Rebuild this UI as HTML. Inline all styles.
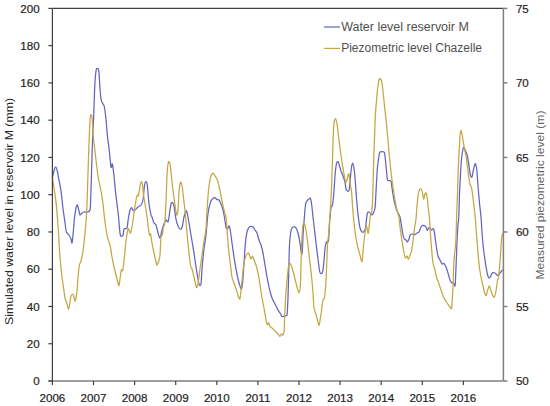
<!DOCTYPE html>
<html><head><meta charset="utf-8"><title>Chart</title>
<style>
html,body{margin:0;padding:0;background:#fff}
svg{display:block}
text{font-family:"Liberation Sans",sans-serif}
.tk{font-size:11.6px;fill:#1f1f1f;stroke:#1f1f1f;stroke-width:.2}
.ax{stroke:#404040;stroke-width:1.2}
.axr{stroke:#808080;stroke-width:1.5}
.lg{font-size:12.3px;fill:#505050}
</style></head><body>
<svg width="550" height="406" viewBox="0 0 550 406">
<rect width="550" height="406" fill="#fff"/>
<path d="M52.4,178.0C52.7,176.9 53.7,171.6 54.2,170.0C54.7,168.4 55.4,166.9 55.8,167.0C56.2,167.1 56.8,169.1 57.2,170.5C57.6,171.9 58.1,175.2 58.4,177.0C58.7,178.8 59.2,180.8 59.6,183.0C60.0,185.2 60.7,189.0 61.2,192.4C61.7,195.8 62.4,203.5 62.8,207.0C63.2,210.5 63.8,214.4 64.2,217.0C64.6,219.6 65.0,222.9 65.3,225.0C65.6,227.1 65.9,230.6 66.4,232.0C66.9,233.4 68.3,234.0 69.0,235.0C69.7,236.0 70.6,237.9 71.0,239.0C71.4,240.1 71.7,243.6 72.0,243.0C72.3,242.4 72.7,237.9 73.0,235.0C73.3,232.1 73.8,225.6 74.0,223.0C74.2,220.4 74.3,219.1 74.6,217.0C74.9,214.9 75.6,209.7 76.0,208.0C76.4,206.3 77.0,204.6 77.4,205.0C77.8,205.4 78.6,209.6 79.0,211.0C79.4,212.4 79.6,214.7 80.0,215.0C80.4,215.3 81.4,213.4 82.0,213.0C82.6,212.6 83.3,212.1 84.0,212.0C84.7,211.9 86.1,212.3 87.0,212.0C87.9,211.7 89.5,212.3 90.0,210.0C90.5,207.7 90.5,203.7 90.8,196.0C91.1,188.3 91.7,164.6 92.0,156.0C92.3,147.4 92.5,141.9 92.7,136.0C92.9,130.1 93.4,122.3 93.7,115.0C94.0,107.7 94.5,90.9 94.8,85.0C95.1,79.1 95.5,75.8 95.7,73.5C95.9,71.2 96.2,69.9 96.4,69.2C96.6,68.5 97.1,68.3 97.4,68.3C97.7,68.3 98.2,68.5 98.4,69.2C98.6,69.9 98.9,70.7 99.1,73.5C99.3,76.3 99.7,85.2 100.0,89.0C100.3,92.8 100.8,97.9 101.2,100.0C101.6,102.1 102.5,103.0 103.0,104.0C103.5,105.0 104.0,104.9 104.4,107.0C104.8,109.1 105.6,114.9 106.0,119.0C106.4,123.1 107.0,131.9 107.4,136.0C107.8,140.1 108.5,143.6 109.0,148.0C109.5,152.4 110.5,164.7 111.0,167.0C111.5,169.3 112.0,162.7 112.4,164.0C112.8,165.3 113.5,171.4 114.0,176.0C114.5,180.6 115.4,190.9 116.0,196.0C116.6,201.1 117.6,209.0 118.0,212.0C118.4,215.0 118.4,215.1 118.6,217.0C118.8,218.9 118.9,222.4 119.2,225.0C119.5,227.6 119.9,233.9 120.4,235.4C120.9,236.9 122.5,236.3 123.0,235.4C123.5,234.5 123.4,230.5 124.0,229.4C124.6,228.3 126.4,229.2 127.0,228.0C127.6,226.8 127.8,222.6 128.0,221.0C128.2,219.4 128.3,218.6 128.6,217.0C128.9,215.4 129.6,211.3 130.0,210.0C130.4,208.7 131.2,207.5 131.6,207.6C132.0,207.7 132.5,210.1 133.0,210.4C133.5,210.7 134.3,210.5 135.0,210.0C135.7,209.5 137.1,207.7 138.0,207.0C138.9,206.3 140.3,206.0 141.0,205.0C141.7,204.0 142.5,202.7 143.0,200.0C143.5,197.3 144.0,188.6 144.4,186.0C144.8,183.4 145.6,181.6 146.0,181.6C146.4,181.6 147.0,182.8 147.4,186.0C147.8,189.2 148.5,199.9 149.0,204.0C149.5,208.1 150.6,213.1 151.0,215.0C151.4,216.9 151.6,215.9 152.0,217.0C152.4,218.1 153.4,221.9 154.0,223.0C154.6,224.1 155.4,223.6 156.0,225.0C156.6,226.4 157.4,231.1 158.0,233.0C158.6,234.9 159.4,238.4 160.0,238.0C160.6,237.6 161.4,232.0 162.0,230.0C162.6,228.0 163.4,225.4 164.0,224.0C164.6,222.6 165.4,220.3 166.0,220.0C166.6,219.7 167.6,222.4 168.0,222.0C168.4,221.6 168.7,218.7 169.0,217.0C169.3,215.3 169.7,211.9 170.0,210.0C170.3,208.1 170.7,205.1 171.0,204.0C171.3,202.9 172.0,202.3 172.4,202.6C172.8,202.9 173.5,203.9 174.0,206.0C174.5,208.1 175.2,214.6 175.6,217.0C176.0,219.4 176.5,221.4 177.0,223.0C177.5,224.6 178.4,227.1 179.0,228.0C179.6,228.9 180.5,229.3 181.0,229.0C181.5,228.7 182.0,227.4 182.4,226.0C182.8,224.6 183.4,220.3 183.6,219.0C183.8,217.7 183.7,218.0 184.0,217.0C184.3,216.0 185.2,212.9 185.6,212.0C186.0,211.1 186.3,210.3 186.6,211.0C186.9,211.7 187.5,214.4 188.0,217.0C188.5,219.6 189.4,225.6 190.0,229.0C190.6,232.4 191.4,237.6 192.0,241.0C192.6,244.4 193.4,249.3 194.0,253.0C194.6,256.7 195.4,263.3 196.0,267.0C196.6,270.7 197.5,276.4 198.0,279.0C198.5,281.6 199.0,284.3 199.4,285.0C199.8,285.7 200.6,286.3 201.0,284.0C201.4,281.7 201.6,274.0 202.0,269.0C202.4,264.0 203.4,253.9 204.0,249.0C204.6,244.1 205.5,239.6 206.0,235.0C206.5,230.4 207.2,220.9 207.6,217.0C208.0,213.1 208.5,210.3 209.0,208.0C209.5,205.7 210.4,202.4 211.0,201.0C211.6,199.6 212.4,198.9 213.0,198.4C213.6,197.9 214.4,197.4 215.0,197.6C215.6,197.8 216.4,199.3 217.0,199.6C217.6,199.9 218.4,199.4 219.0,200.0C219.6,200.6 220.4,202.6 221.0,204.0C221.6,205.4 222.5,208.1 223.0,210.0C223.5,211.9 224.0,214.6 224.4,217.0C224.8,219.4 225.6,225.3 226.0,227.0C226.4,228.7 227.0,229.1 227.4,229.0C227.8,228.9 228.6,225.7 229.0,226.0C229.4,226.3 230.0,228.6 230.4,231.0C230.8,233.4 231.5,239.3 232.0,243.0C232.5,246.7 233.4,253.3 234.0,257.0C234.6,260.7 235.4,265.9 236.0,269.0C236.6,272.1 237.4,276.6 238.0,279.0C238.6,281.4 239.5,284.6 240.0,286.0C240.5,287.4 241.0,289.4 241.4,289.0C241.8,288.6 242.2,286.7 242.6,283.0C243.0,279.3 243.6,268.7 244.0,263.0C244.4,257.3 245.0,247.4 245.4,243.0C245.8,238.6 246.5,234.2 247.0,232.0C247.5,229.8 248.4,228.2 249.0,227.4C249.6,226.6 250.4,226.5 251.0,226.4C251.6,226.3 252.4,226.5 253.0,227.0C253.6,227.5 254.4,229.1 255.0,230.0C255.6,230.9 256.4,231.6 257.0,233.0C257.6,234.4 258.4,238.3 259.0,240.0C259.6,241.7 260.4,243.1 261.0,245.0C261.6,246.9 262.4,250.1 263.0,253.0C263.6,255.9 264.4,261.6 265.0,265.0C265.6,268.4 266.4,273.9 267.0,277.0C267.6,280.1 268.6,285.0 269.0,287.0C269.4,289.0 269.6,289.4 270.0,291.0C270.4,292.6 271.4,296.4 272.0,298.0C272.6,299.6 273.4,300.9 274.0,302.0C274.6,303.1 275.4,304.9 276.0,306.0C276.6,307.1 277.4,309.0 278.0,310.0C278.6,311.0 279.4,312.1 280.0,313.0C280.6,313.9 281.3,316.0 282.0,316.4C282.7,316.8 284.3,316.2 285.0,316.0C285.7,315.8 286.6,316.4 287.0,315.0C287.4,313.6 287.5,308.4 287.6,306.0C287.7,303.6 287.9,302.1 288.0,298.0C288.1,293.9 288.4,284.3 288.6,277.0C288.8,269.7 289.1,253.3 289.4,247.0C289.7,240.7 290.2,235.7 290.6,233.0C291.0,230.3 291.5,228.9 292.0,228.0C292.5,227.1 293.4,226.6 294.0,226.6C294.6,226.6 295.4,227.1 296.0,228.0C296.6,228.9 297.4,230.9 298.0,233.0C298.6,235.1 299.6,240.4 300.0,243.0C300.4,245.6 300.7,249.4 301.0,251.0C301.3,252.6 301.8,254.9 302.0,254.0C302.2,253.1 302.4,248.6 302.6,245.0C302.8,241.4 303.1,233.0 303.4,229.0C303.7,225.0 304.1,220.6 304.4,217.0C304.7,213.4 305.2,206.3 305.6,204.0C306.0,201.7 306.5,201.7 307.0,201.0C307.5,200.3 308.5,199.4 309.0,199.0C309.5,198.6 310.0,197.7 310.4,198.4C310.8,199.1 311.2,201.3 311.6,204.0C312.0,206.7 312.6,213.4 313.0,217.0C313.4,220.6 314.0,225.3 314.4,229.0C314.8,232.7 315.5,238.7 316.0,243.0C316.5,247.3 317.5,255.1 318.0,259.0C318.5,262.9 319.1,267.9 319.4,270.0C319.7,272.1 320.0,273.0 320.4,273.4C320.8,273.8 321.9,273.8 322.4,272.6C322.9,271.4 323.2,268.4 323.6,265.0C324.0,261.6 324.6,252.3 325.0,249.0C325.4,245.7 325.9,243.1 326.4,242.0C326.9,240.9 328.0,242.9 328.4,241.0C328.8,239.1 329.0,232.4 329.2,229.0C329.4,225.6 329.7,220.0 330.0,217.0C330.3,214.0 330.7,209.7 331.0,208.0C331.3,206.3 332.0,206.7 332.4,205.0C332.8,203.3 333.2,200.1 333.6,196.0C334.0,191.9 334.6,180.6 335.0,176.0C335.4,171.4 336.0,166.1 336.4,164.0C336.8,161.9 337.5,161.3 338.0,161.6C338.5,161.9 339.2,164.7 339.6,166.0C340.0,167.3 340.5,169.6 341.0,171.0C341.5,172.4 342.4,174.4 343.0,176.0C343.6,177.6 344.6,180.1 345.0,182.0C345.4,183.9 345.7,187.7 346.0,189.0C346.3,190.3 347.0,190.8 347.4,191.0C347.8,191.2 348.6,191.7 349.0,190.4C349.4,189.1 349.7,185.2 350.0,182.0C350.3,178.8 351.0,170.7 351.4,168.0C351.8,165.3 352.2,163.0 352.6,163.0C353.0,163.0 353.6,165.6 354.0,168.0C354.4,170.4 354.8,175.7 355.2,180.0C355.6,184.3 356.1,193.4 356.5,198.0C356.9,202.6 357.4,209.0 357.7,212.0C358.0,215.0 358.3,216.9 358.6,219.0C358.9,221.1 359.4,225.2 359.8,227.0C360.2,228.8 361.1,230.9 361.6,231.6C362.1,232.3 363.1,232.4 363.6,232.0C364.1,231.6 365.0,230.2 365.4,228.5C365.8,226.8 366.2,221.8 366.4,220.0C366.6,218.2 366.8,217.0 366.9,216.0C367.0,215.0 367.1,213.6 367.4,213.0C367.7,212.4 368.5,211.9 369.0,212.0C369.5,212.1 370.2,213.2 370.6,213.6C371.0,214.0 371.6,215.1 372.0,215.0C372.4,214.9 373.0,214.0 373.4,213.0C373.8,212.0 374.6,211.0 375.0,208.0C375.4,205.0 375.7,197.7 376.0,192.0C376.3,186.3 377.0,173.1 377.4,168.0C377.8,162.9 378.6,158.3 379.0,156.0C379.4,153.7 379.3,152.6 380.0,152.0C380.7,151.4 383.3,151.4 384.0,152.0C384.7,152.6 384.7,154.0 385.0,156.0C385.3,158.0 385.7,163.1 386.0,166.0C386.3,168.9 386.8,173.9 387.0,176.0C387.2,178.1 387.0,179.7 387.6,180.4C388.2,181.1 390.4,179.9 391.0,181.0C391.6,182.1 391.6,185.3 392.0,188.0C392.4,190.7 393.4,197.1 394.0,200.0C394.6,202.9 395.4,206.1 396.0,208.0C396.6,209.9 397.4,211.7 398.0,213.0C398.6,214.3 399.5,215.3 400.0,217.0C400.5,218.7 401.0,222.4 401.4,225.0C401.8,227.6 402.6,233.0 403.0,235.0C403.4,237.0 404.0,238.3 404.4,239.0C404.8,239.7 405.6,239.6 406.0,240.0C406.4,240.4 407.0,242.1 407.4,242.0C407.8,241.9 408.6,239.9 409.0,239.0C409.4,238.1 409.6,236.1 410.0,235.4C410.4,234.7 411.3,234.1 412.0,234.0C412.7,233.9 414.3,234.7 415.0,234.6C415.7,234.5 416.4,233.4 417.0,233.0C417.6,232.6 418.4,232.9 419.0,232.0C419.6,231.1 420.4,227.9 421.0,227.0C421.6,226.1 422.4,225.5 423.0,225.4C423.6,225.3 424.5,225.6 425.0,226.0C425.5,226.4 426.1,227.3 426.4,228.0C426.7,228.7 427.1,230.6 427.4,230.6C427.7,230.6 428.2,228.4 428.6,228.0C429.0,227.6 429.6,227.7 430.0,228.0C430.4,228.3 431.0,229.9 431.4,230.0C431.8,230.1 432.6,228.6 433.0,228.6C433.4,228.6 433.7,228.8 434.0,230.0C434.3,231.2 434.7,234.6 435.0,237.0C435.3,239.4 436.0,244.3 436.4,247.0C436.8,249.7 437.5,254.1 438.0,256.0C438.5,257.9 439.4,258.9 440.0,260.0C440.6,261.1 441.4,263.5 442.0,264.0C442.6,264.5 443.4,263.0 444.0,263.4C444.6,263.8 445.4,265.6 446.0,267.0C446.6,268.4 447.4,271.1 448.0,273.0C448.6,274.9 449.4,278.6 450.0,280.0C450.6,281.4 451.5,282.6 452.0,283.0C452.5,283.4 453.2,282.6 453.6,283.0C454.0,283.4 454.7,286.9 455.0,286.0C455.3,285.1 455.4,281.1 455.6,277.0C455.8,272.9 456.2,262.7 456.4,257.0C456.6,251.3 457.0,241.6 457.2,237.0C457.4,232.4 457.8,227.9 458.0,225.0C458.2,222.1 458.6,221.1 458.8,217.0C459.0,212.9 459.2,201.9 459.4,196.0C459.6,190.1 460.1,181.4 460.4,176.0C460.7,170.6 461.2,161.9 461.6,158.0C462.0,154.1 462.7,150.5 463.0,149.0C463.3,147.5 463.6,147.1 464.0,147.4C464.4,147.7 465.1,149.8 465.6,151.0C466.1,152.2 466.9,153.9 467.4,156.0C467.9,158.1 468.6,163.3 469.0,166.0C469.4,168.7 470.0,173.4 470.4,175.0C470.8,176.6 471.6,177.7 472.0,177.0C472.4,176.3 473.0,171.7 473.4,170.0C473.8,168.3 474.3,165.9 474.6,165.0C474.9,164.1 475.3,163.3 475.6,164.0C475.9,164.7 476.5,166.9 476.8,170.0C477.1,173.1 477.6,181.4 478.0,186.0C478.4,190.6 479.0,197.6 479.4,202.0C479.8,206.4 480.6,212.3 481.0,217.0C481.4,221.7 481.8,230.3 482.2,235.0C482.6,239.7 483.2,246.4 483.6,250.0C484.0,253.6 484.7,257.6 485.0,260.0C485.3,262.4 485.6,264.9 486.0,267.0C486.4,269.1 487.2,273.4 487.6,275.0C488.0,276.6 488.6,277.7 489.0,278.0C489.4,278.3 490.0,277.6 490.4,277.0C490.8,276.4 491.2,274.6 491.6,274.0C492.0,273.4 492.5,272.7 493.0,272.6C493.5,272.5 494.4,272.7 495.0,273.0C495.6,273.3 496.5,274.7 497.0,275.0C497.5,275.3 498.0,275.7 498.4,275.4C498.8,275.1 499.5,273.6 500.0,273.0C500.5,272.4 501.2,271.4 501.6,271.0C502.0,270.6 502.8,270.1 503.0,270.0" fill="none" stroke="#6164c0" stroke-width="1.25" stroke-linejoin="round"/>
<path d="M52.4,178.0C52.6,179.0 53.2,182.4 53.6,185.0C54.0,187.6 54.8,193.0 55.2,196.0C55.6,199.0 56.1,202.6 56.4,206.0C56.7,209.4 57.3,215.4 57.6,220.0C57.9,224.6 58.5,232.7 58.8,238.0C59.1,243.3 59.5,251.4 60.0,257.0C60.5,262.6 61.4,272.1 62.0,277.0C62.6,281.9 63.6,288.0 64.0,291.0C64.4,294.0 64.6,296.1 65.0,298.0C65.4,299.9 66.5,302.4 67.0,304.0C67.5,305.6 68.2,309.3 68.6,309.0C69.0,308.7 69.7,303.9 70.0,302.0C70.3,300.1 70.7,297.1 71.0,296.0C71.3,294.9 71.7,294.6 72.0,294.5C72.3,294.4 73.0,294.1 73.4,295.0C73.8,295.9 74.6,300.6 75.0,301.0C75.4,301.4 75.7,299.4 76.0,298.0C76.3,296.6 76.7,294.0 77.0,291.0C77.3,288.0 77.7,280.7 78.0,277.0C78.3,273.3 79.0,267.3 79.4,265.0C79.8,262.7 80.5,263.0 81.0,261.0C81.5,259.0 82.4,255.0 83.0,251.0C83.6,247.0 84.5,237.9 85.0,233.0C85.5,228.1 86.1,221.4 86.4,217.0C86.7,212.6 86.9,207.9 87.1,202.0C87.3,196.1 87.7,183.1 87.9,176.0C88.1,168.9 88.5,157.7 88.7,152.0C88.9,146.3 89.1,140.3 89.3,136.0C89.5,131.7 89.7,124.9 89.9,122.0C90.1,119.1 90.2,117.1 90.4,116.0C90.6,114.9 90.8,114.6 91.0,114.6C91.2,114.6 91.6,114.7 91.8,116.0C92.0,117.3 92.4,121.1 92.6,124.0C92.8,126.9 92.9,132.9 93.2,136.0C93.5,139.1 94.0,142.6 94.4,146.0C94.8,149.4 95.5,155.7 96.0,160.0C96.5,164.3 97.4,172.3 98.0,176.0C98.6,179.7 99.5,183.4 100.0,186.0C100.5,188.6 101.2,191.4 101.6,194.0C102.0,196.6 102.6,200.7 103.0,204.0C103.4,207.3 104.0,213.4 104.4,217.0C104.8,220.6 105.5,225.9 106.0,229.0C106.5,232.1 107.4,236.7 108.0,239.0C108.6,241.3 109.4,242.4 110.0,245.0C110.6,247.6 111.4,253.9 112.0,257.0C112.6,260.1 113.4,264.4 114.0,267.0C114.6,269.6 115.4,272.7 116.0,275.0C116.6,277.3 117.6,281.5 118.0,283.0C118.4,284.5 118.7,286.2 119.0,285.6C119.3,285.0 119.7,281.2 120.0,279.0C120.3,276.8 121.0,271.2 121.4,270.0C121.8,268.8 122.2,271.9 122.6,270.6C123.0,269.3 123.5,265.2 124.0,261.0C124.5,256.8 125.4,245.6 126.0,241.0C126.6,236.4 127.5,230.4 128.0,229.0C128.5,227.6 129.1,230.4 129.4,231.0C129.7,231.6 130.0,233.6 130.4,233.0C130.8,232.4 131.6,229.3 132.0,227.0C132.4,224.7 133.1,220.0 133.5,217.0C133.9,214.0 134.6,208.7 135.0,206.0C135.4,203.3 136.1,199.6 136.4,198.0C136.7,196.4 137.1,195.3 137.4,195.0C137.7,194.7 138.1,196.7 138.4,196.0C138.7,195.3 139.1,191.7 139.4,190.0C139.7,188.3 140.1,185.2 140.4,184.0C140.7,182.8 141.3,181.6 141.6,181.6C141.9,181.6 142.1,182.2 142.4,184.0C142.7,185.8 143.1,191.7 143.4,194.0C143.7,196.3 144.0,197.7 144.4,200.0C144.8,202.3 145.6,207.6 146.0,210.0C146.4,212.4 146.7,214.9 147.0,217.0C147.3,219.1 147.7,222.4 148.0,225.0C148.3,227.6 149.0,233.7 149.4,235.0C149.8,236.3 150.2,232.9 150.6,234.0C151.0,235.1 151.5,240.3 152.0,243.0C152.5,245.7 153.4,250.3 154.0,253.0C154.6,255.7 155.6,260.3 156.0,262.0C156.4,263.7 156.6,265.3 157.0,265.0C157.4,264.7 158.6,261.4 159.0,260.0C159.4,258.6 159.7,258.3 160.0,255.0C160.3,251.7 160.7,239.9 161.0,237.0C161.3,234.1 162.1,236.4 162.4,235.0C162.7,233.6 163.1,228.4 163.4,227.0C163.7,225.6 164.1,226.4 164.4,225.0C164.7,223.6 165.0,220.3 165.2,217.0C165.4,213.7 165.7,207.9 166.0,202.0C166.3,196.1 166.7,181.4 167.0,176.0C167.3,170.6 167.7,166.1 168.0,164.0C168.3,161.9 168.7,161.3 169.0,161.6C169.3,161.9 170.0,163.1 170.4,166.0C170.8,168.9 171.5,177.4 172.0,182.0C172.5,186.6 173.4,193.7 174.0,198.0C174.6,202.3 175.6,209.6 176.0,212.0C176.4,214.4 176.7,215.3 177.0,215.0C177.3,214.7 177.7,213.3 178.0,210.0C178.3,206.7 178.7,195.7 179.0,192.0C179.3,188.3 179.7,185.4 180.0,184.0C180.3,182.6 180.7,181.8 181.0,182.4C181.3,183.0 182.0,185.2 182.4,188.0C182.8,190.8 183.5,197.9 184.0,202.0C184.5,206.1 185.2,212.6 185.6,217.0C186.0,221.4 186.5,227.9 187.0,233.0C187.5,238.1 188.5,248.4 189.0,253.0C189.5,257.6 190.0,262.7 190.4,265.0C190.8,267.3 191.5,267.3 192.0,269.0C192.5,270.7 193.4,274.6 194.0,277.0C194.6,279.4 195.6,284.5 196.0,286.0C196.4,287.5 196.7,288.1 197.0,287.4C197.3,286.7 198.0,283.6 198.4,281.0C198.8,278.4 199.5,272.7 200.0,269.0C200.5,265.3 201.4,259.0 202.0,255.0C202.6,251.0 203.4,244.7 204.0,241.0C204.6,237.3 205.6,232.4 206.0,229.0C206.4,225.6 206.4,220.9 206.6,217.0C206.8,213.1 207.3,206.4 207.6,202.0C207.9,197.6 208.5,189.7 209.0,186.0C209.5,182.3 210.4,177.9 211.0,176.0C211.6,174.1 212.4,173.0 213.0,173.0C213.6,173.0 214.4,175.1 215.0,176.0C215.6,176.9 216.4,177.6 217.0,179.0C217.6,180.4 218.4,183.6 219.0,186.0C219.6,188.4 220.4,193.1 221.0,196.0C221.6,198.9 222.4,203.4 223.0,206.0C223.6,208.6 224.6,212.4 225.0,214.0C225.4,215.6 225.7,214.9 226.0,217.0C226.3,219.1 226.7,224.7 227.0,229.0C227.3,233.3 228.0,242.4 228.4,247.0C228.8,251.6 229.5,256.7 230.0,261.0C230.5,265.3 231.4,273.9 232.0,277.0C232.6,280.1 233.4,281.3 234.0,283.0C234.6,284.7 235.4,287.3 236.0,289.0C236.6,290.7 237.6,293.7 238.0,295.0C238.4,296.3 238.7,297.5 239.0,298.0C239.3,298.5 239.7,299.6 240.0,298.6C240.3,297.6 240.7,293.5 241.0,291.0C241.3,288.5 241.6,285.0 242.0,281.0C242.4,277.0 243.4,266.6 244.0,263.0C244.6,259.4 245.4,257.4 246.0,256.0C246.6,254.6 247.5,253.1 248.0,253.0C248.5,252.9 249.0,254.1 249.4,255.0C249.8,255.9 250.6,258.9 251.0,259.0C251.4,259.1 252.0,255.9 252.4,256.0C252.8,256.1 253.5,258.7 254.0,260.0C254.5,261.3 255.4,263.1 256.0,265.0C256.6,266.9 257.5,270.7 258.0,273.0C258.5,275.3 259.0,278.4 259.4,281.0C259.8,283.6 260.6,288.6 261.0,291.0C261.4,293.4 261.6,295.6 262.0,298.0C262.4,300.4 263.4,304.9 264.0,308.0C264.6,311.1 265.5,317.6 266.0,320.0C266.5,322.4 267.0,324.2 267.4,324.6C267.8,325.0 268.2,322.5 268.6,322.8C269.0,323.1 269.5,325.8 270.0,326.5C270.5,327.2 271.4,327.5 272.0,328.0C272.6,328.5 273.4,329.4 274.0,330.0C274.6,330.6 275.4,331.4 276.0,332.0C276.6,332.6 277.4,333.4 278.0,334.0C278.6,334.6 279.5,336.4 280.0,336.4C280.5,336.4 281.0,334.2 281.4,334.0C281.8,333.8 282.6,335.3 283.0,335.0C283.4,334.7 283.8,334.4 284.0,332.0C284.2,329.6 284.4,322.9 284.6,318.0C284.8,313.1 285.3,303.3 285.6,298.0C285.9,292.7 286.6,285.4 287.0,281.0C287.4,276.6 288.0,269.5 288.4,267.0C288.8,264.5 289.2,263.7 289.6,263.4C290.0,263.1 290.5,263.9 291.0,265.0C291.5,266.1 292.4,269.0 293.0,271.0C293.6,273.0 294.4,276.7 295.0,279.0C295.6,281.3 296.4,285.1 297.0,287.0C297.6,288.9 298.5,292.9 299.0,292.6C299.5,292.3 300.1,290.1 300.4,285.0C300.7,279.9 301.0,263.9 301.2,257.0C301.4,250.1 301.7,241.6 302.0,237.0C302.3,232.4 302.7,227.0 303.0,225.0C303.3,223.0 303.7,222.7 304.0,223.0C304.3,223.3 305.0,225.0 305.4,227.0C305.8,229.0 306.6,233.9 307.0,237.0C307.4,240.1 308.0,245.3 308.4,249.0C308.8,252.7 309.5,259.0 310.0,263.0C310.5,267.0 311.2,272.7 311.6,277.0C312.0,281.3 312.7,288.6 313.0,293.0C313.3,297.4 313.6,305.1 314.0,308.0C314.4,310.9 315.2,311.6 315.6,313.0C316.0,314.4 316.5,316.2 317.0,318.0C317.5,319.8 318.5,325.6 319.0,325.6C319.5,325.6 320.0,320.2 320.4,318.0C320.8,315.8 321.3,312.3 321.6,310.0C321.9,307.7 322.3,303.6 322.6,302.0C322.9,300.4 323.3,299.6 323.6,299.0C323.9,298.4 324.1,299.7 324.4,298.0C324.7,296.3 325.3,291.4 325.6,287.0C325.9,282.6 326.3,273.3 326.6,267.0C326.9,260.7 327.3,247.3 327.6,243.0C327.9,238.7 328.2,239.3 328.4,237.0C328.6,234.7 329.0,229.9 329.2,227.0C329.4,224.1 329.6,220.0 329.8,217.0C330.0,214.0 330.3,210.4 330.6,206.0C330.9,201.6 331.3,193.1 331.6,186.0C331.9,178.9 332.4,163.1 332.6,156.0C332.8,148.9 333.0,140.7 333.2,136.0C333.4,131.3 333.7,125.5 334.0,123.0C334.3,120.5 335.0,118.5 335.4,118.6C335.8,118.7 336.6,121.5 337.0,124.0C337.4,126.5 338.1,132.6 338.5,136.0C338.9,139.4 339.5,144.3 340.0,148.0C340.5,151.7 341.4,158.3 342.0,162.0C342.6,165.7 343.5,171.1 344.0,174.0C344.5,176.9 345.2,181.1 345.6,182.0C346.0,182.9 346.7,181.0 347.0,180.0C347.3,179.0 347.7,175.9 348.0,175.0C348.3,174.1 348.8,173.4 349.0,174.0C349.2,174.6 349.4,177.3 349.6,179.0C349.8,180.7 350.3,184.1 350.6,186.0C350.9,187.9 351.3,189.0 351.6,192.0C351.9,195.0 352.3,203.1 352.6,207.0C352.9,210.9 353.3,215.6 353.6,219.0C353.9,222.4 354.7,228.3 355.0,231.0C355.3,233.7 355.6,235.6 356.0,238.0C356.4,240.4 357.4,245.6 358.0,248.0C358.6,250.4 359.4,253.1 360.0,255.0C360.6,256.9 361.5,262.7 362.0,261.6C362.5,260.5 363.0,251.1 363.4,247.0C363.8,242.9 364.6,236.0 365.0,233.0C365.4,230.0 366.0,225.9 366.5,226.0C367.0,226.1 367.8,233.8 368.2,233.5C368.6,233.2 369.1,226.6 369.4,224.0C369.7,221.4 370.2,216.6 370.5,215.0C370.8,213.4 371.3,214.1 371.6,212.5C371.9,210.9 372.2,207.8 372.4,204.0C372.6,200.2 372.8,192.9 373.0,186.0C373.2,179.1 373.6,163.1 373.8,156.0C374.0,148.9 374.4,141.9 374.6,136.0C374.8,130.1 375.1,120.9 375.4,115.0C375.7,109.1 376.6,99.6 377.0,95.0C377.4,90.4 378.0,85.3 378.4,83.0C378.8,80.7 379.3,79.2 379.6,78.6C379.9,78.0 380.1,78.3 380.4,78.6C380.7,78.9 381.2,79.2 381.6,81.0C382.0,82.8 382.6,87.6 383.0,91.0C383.4,94.4 384.0,101.0 384.4,105.0C384.8,109.0 385.5,114.6 386.0,119.0C386.5,123.4 387.2,131.3 387.6,136.0C388.0,140.7 388.6,147.7 389.0,152.0C389.4,156.3 390.0,162.0 390.4,166.0C390.8,170.0 391.5,176.0 392.0,180.0C392.5,184.0 393.4,190.3 394.0,194.0C394.6,197.7 395.4,203.1 396.0,206.0C396.6,208.9 397.6,212.4 398.0,214.0C398.4,215.6 398.7,215.1 399.0,217.0C399.3,218.9 399.7,224.1 400.0,227.0C400.3,229.9 401.0,234.1 401.4,237.0C401.8,239.9 402.6,244.4 403.0,247.0C403.4,249.6 404.1,253.4 404.4,255.0C404.7,256.6 405.0,257.9 405.4,258.0C405.8,258.1 406.6,255.8 407.0,256.0C407.4,256.2 408.0,259.5 408.4,259.4C408.8,259.3 409.5,256.2 410.0,255.0C410.5,253.8 411.2,253.0 411.6,251.0C412.0,249.0 412.6,244.1 413.0,241.0C413.4,237.9 414.0,232.1 414.4,229.0C414.8,225.9 415.6,222.3 416.0,219.0C416.4,215.7 416.7,209.3 417.0,206.0C417.3,202.7 417.7,198.3 418.0,196.0C418.3,193.7 419.0,191.0 419.4,190.0C419.8,189.0 420.6,188.7 421.0,189.0C421.4,189.3 422.0,190.6 422.4,192.0C422.8,193.4 423.2,198.7 423.6,199.0C424.0,199.3 424.7,194.9 425.0,194.0C425.3,193.1 425.7,192.7 426.0,193.0C426.3,193.3 426.7,194.1 427.0,196.0C427.3,197.9 427.7,203.0 428.0,206.0C428.3,209.0 429.1,213.1 429.4,217.0C429.7,220.9 430.1,228.4 430.4,233.0C430.7,237.6 431.2,244.7 431.6,249.0C432.0,253.3 432.5,260.0 433.0,263.0C433.5,266.0 434.5,268.0 435.0,270.0C435.5,272.0 436.0,275.4 436.4,277.0C436.8,278.6 437.5,279.6 438.0,281.0C438.5,282.4 439.4,285.3 440.0,287.0C440.6,288.7 441.4,291.4 442.0,293.0C442.6,294.6 443.3,296.6 444.0,298.0C444.7,299.4 446.1,301.7 447.0,303.0C447.9,304.3 449.3,306.2 450.0,307.0C450.7,307.8 451.3,309.7 451.6,308.4C451.9,307.1 452.2,301.1 452.4,298.0C452.6,294.9 452.8,291.1 453.0,287.0C453.2,282.9 453.4,273.6 453.6,269.0C453.8,264.4 454.1,258.1 454.4,255.0C454.7,251.9 455.2,249.6 455.4,247.0C455.6,244.4 455.8,241.3 456.0,237.0C456.2,232.7 456.4,222.9 456.6,217.0C456.8,211.1 457.1,203.3 457.4,196.0C457.7,188.7 458.1,173.1 458.4,166.0C458.7,158.9 459.2,150.3 459.4,146.0C459.6,141.7 459.8,138.3 460.0,136.0C460.2,133.7 460.7,130.0 461.0,130.0C461.3,130.0 462.0,133.7 462.4,136.0C462.8,138.3 463.5,143.1 464.0,146.0C464.5,148.9 465.5,153.1 466.0,156.0C466.5,158.9 467.0,163.1 467.4,166.0C467.8,168.9 468.2,173.4 468.6,176.0C469.0,178.6 469.6,182.3 470.0,184.0C470.4,185.7 471.2,186.0 471.6,188.0C472.0,190.0 472.6,194.9 473.0,198.0C473.4,201.1 474.1,207.3 474.4,210.0C474.7,212.7 474.9,213.7 475.2,217.0C475.5,220.3 476.0,227.9 476.4,233.0C476.8,238.1 477.6,248.1 478.0,253.0C478.4,257.9 479.0,263.6 479.4,267.0C479.8,270.4 480.5,274.3 481.0,277.0C481.5,279.7 482.4,283.6 483.0,286.0C483.6,288.4 484.5,292.7 485.0,294.0C485.5,295.3 485.8,296.1 486.2,295.4C486.6,294.7 487.5,290.3 488.0,289.0C488.5,287.7 489.0,285.7 489.4,286.0C489.8,286.3 490.5,289.6 491.0,291.0C491.5,292.4 492.5,295.1 493.0,296.0C493.5,296.9 494.0,297.7 494.4,297.0C494.8,296.3 495.6,293.3 496.0,291.0C496.4,288.7 497.0,283.0 497.4,281.0C497.8,279.0 498.3,279.0 498.6,277.0C498.9,275.0 499.3,270.4 499.6,267.0C499.9,263.6 500.3,257.0 500.6,253.0C500.9,249.0 501.3,241.9 501.6,239.0C501.9,236.1 502.8,233.9 503.0,233.0" fill="none" stroke="#c6a640" stroke-width="1.25" stroke-linejoin="round"/>
<line x1="52.4" y1="8.4" x2="52.4" y2="381.0" class="ax"/>
<line x1="52.4" y1="8.4" x2="503.4" y2="8.4" class="ax"/>
<line x1="48.4" y1="381.0" x2="503.4" y2="381.0" class="ax"/>
<line x1="503.4" y1="8.4" x2="503.4" y2="381.0" class="axr"/>
<line x1="48.4" y1="381.00" x2="52.4" y2="381.00" class="ax"/>
<text x="39.7" y="385.10" text-anchor="end" class="tk">0</text>
<line x1="48.4" y1="343.74" x2="52.4" y2="343.74" class="ax"/>
<text x="39.7" y="347.84" text-anchor="end" class="tk">20</text>
<line x1="48.4" y1="306.48" x2="52.4" y2="306.48" class="ax"/>
<text x="39.7" y="310.58" text-anchor="end" class="tk">40</text>
<line x1="48.4" y1="269.22" x2="52.4" y2="269.22" class="ax"/>
<text x="39.7" y="273.32" text-anchor="end" class="tk">60</text>
<line x1="48.4" y1="231.96" x2="52.4" y2="231.96" class="ax"/>
<text x="39.7" y="236.06" text-anchor="end" class="tk">80</text>
<line x1="48.4" y1="194.70" x2="52.4" y2="194.70" class="ax"/>
<text x="39.7" y="198.80" text-anchor="end" class="tk">100</text>
<line x1="48.4" y1="157.44" x2="52.4" y2="157.44" class="ax"/>
<text x="39.7" y="161.54" text-anchor="end" class="tk">120</text>
<line x1="48.4" y1="120.18" x2="52.4" y2="120.18" class="ax"/>
<text x="39.7" y="124.28" text-anchor="end" class="tk">140</text>
<line x1="48.4" y1="82.92" x2="52.4" y2="82.92" class="ax"/>
<text x="39.7" y="87.02" text-anchor="end" class="tk">160</text>
<line x1="48.4" y1="45.66" x2="52.4" y2="45.66" class="ax"/>
<text x="39.7" y="49.76" text-anchor="end" class="tk">180</text>
<line x1="48.4" y1="8.40" x2="52.4" y2="8.40" class="ax"/>
<text x="39.7" y="12.50" text-anchor="end" class="tk">200</text>
<line x1="503.4" y1="381.00" x2="507.4" y2="381.00" class="axr"/>
<text x="515.9" y="385.40" class="tk">50</text>
<line x1="503.4" y1="306.48" x2="507.4" y2="306.48" class="axr"/>
<text x="515.9" y="310.88" class="tk">55</text>
<line x1="503.4" y1="231.96" x2="507.4" y2="231.96" class="axr"/>
<text x="515.9" y="236.36" class="tk">60</text>
<line x1="503.4" y1="157.44" x2="507.4" y2="157.44" class="axr"/>
<text x="515.9" y="161.84" class="tk">65</text>
<line x1="503.4" y1="82.92" x2="507.4" y2="82.92" class="axr"/>
<text x="515.9" y="87.32" class="tk">70</text>
<line x1="503.4" y1="8.40" x2="507.4" y2="8.40" class="axr"/>
<text x="515.9" y="12.80" class="tk">75</text>
<line x1="52.40" y1="381.0" x2="52.40" y2="385" class="ax"/>
<text x="52.40" y="402.3" text-anchor="middle" class="tk">2006</text>
<line x1="93.50" y1="381.0" x2="93.50" y2="385" class="ax"/>
<text x="93.50" y="402.3" text-anchor="middle" class="tk">2007</text>
<line x1="134.60" y1="381.0" x2="134.60" y2="385" class="ax"/>
<text x="134.60" y="402.3" text-anchor="middle" class="tk">2008</text>
<line x1="175.70" y1="381.0" x2="175.70" y2="385" class="ax"/>
<text x="175.70" y="402.3" text-anchor="middle" class="tk">2009</text>
<line x1="216.80" y1="381.0" x2="216.80" y2="385" class="ax"/>
<text x="216.80" y="402.3" text-anchor="middle" class="tk">2010</text>
<line x1="257.90" y1="381.0" x2="257.90" y2="385" class="ax"/>
<text x="257.90" y="402.3" text-anchor="middle" class="tk">2011</text>
<line x1="299.00" y1="381.0" x2="299.00" y2="385" class="ax"/>
<text x="299.00" y="402.3" text-anchor="middle" class="tk">2012</text>
<line x1="340.10" y1="381.0" x2="340.10" y2="385" class="ax"/>
<text x="340.10" y="402.3" text-anchor="middle" class="tk">2013</text>
<line x1="381.20" y1="381.0" x2="381.20" y2="385" class="ax"/>
<text x="381.20" y="402.3" text-anchor="middle" class="tk">2014</text>
<line x1="422.30" y1="381.0" x2="422.30" y2="385" class="ax"/>
<text x="422.30" y="402.3" text-anchor="middle" class="tk">2015</text>
<line x1="463.40" y1="381.0" x2="463.40" y2="385" class="ax"/>
<text x="463.40" y="402.3" text-anchor="middle" class="tk">2016</text>
<line x1="324" y1="27" x2="340" y2="27" stroke="#6164c0" stroke-width="1.2"/>
<text x="341.2" y="31.4" class="lg" textLength="127.6" lengthAdjust="spacingAndGlyphs">Water level reservoir M</text>
<line x1="324" y1="48.4" x2="340" y2="48.4" stroke="#c6a640" stroke-width="1.2"/>
<text x="341.2" y="52.3" class="lg" textLength="140.8" lengthAdjust="spacingAndGlyphs">Piezometric level Chazelle</text>
<text transform="translate(12.8,211.5) rotate(-90)" text-anchor="middle" style="font-size:11.3px;fill:#262626" textLength="227" lengthAdjust="spacingAndGlyphs">Simulated water level in reservoir M (mm)</text>
<text transform="translate(544.3,195) rotate(-90)" text-anchor="middle" style="font-size:10.8px;fill:#666" textLength="169" lengthAdjust="spacingAndGlyphs">Measured piezometric level (m)</text>
</svg>
</body></html>
